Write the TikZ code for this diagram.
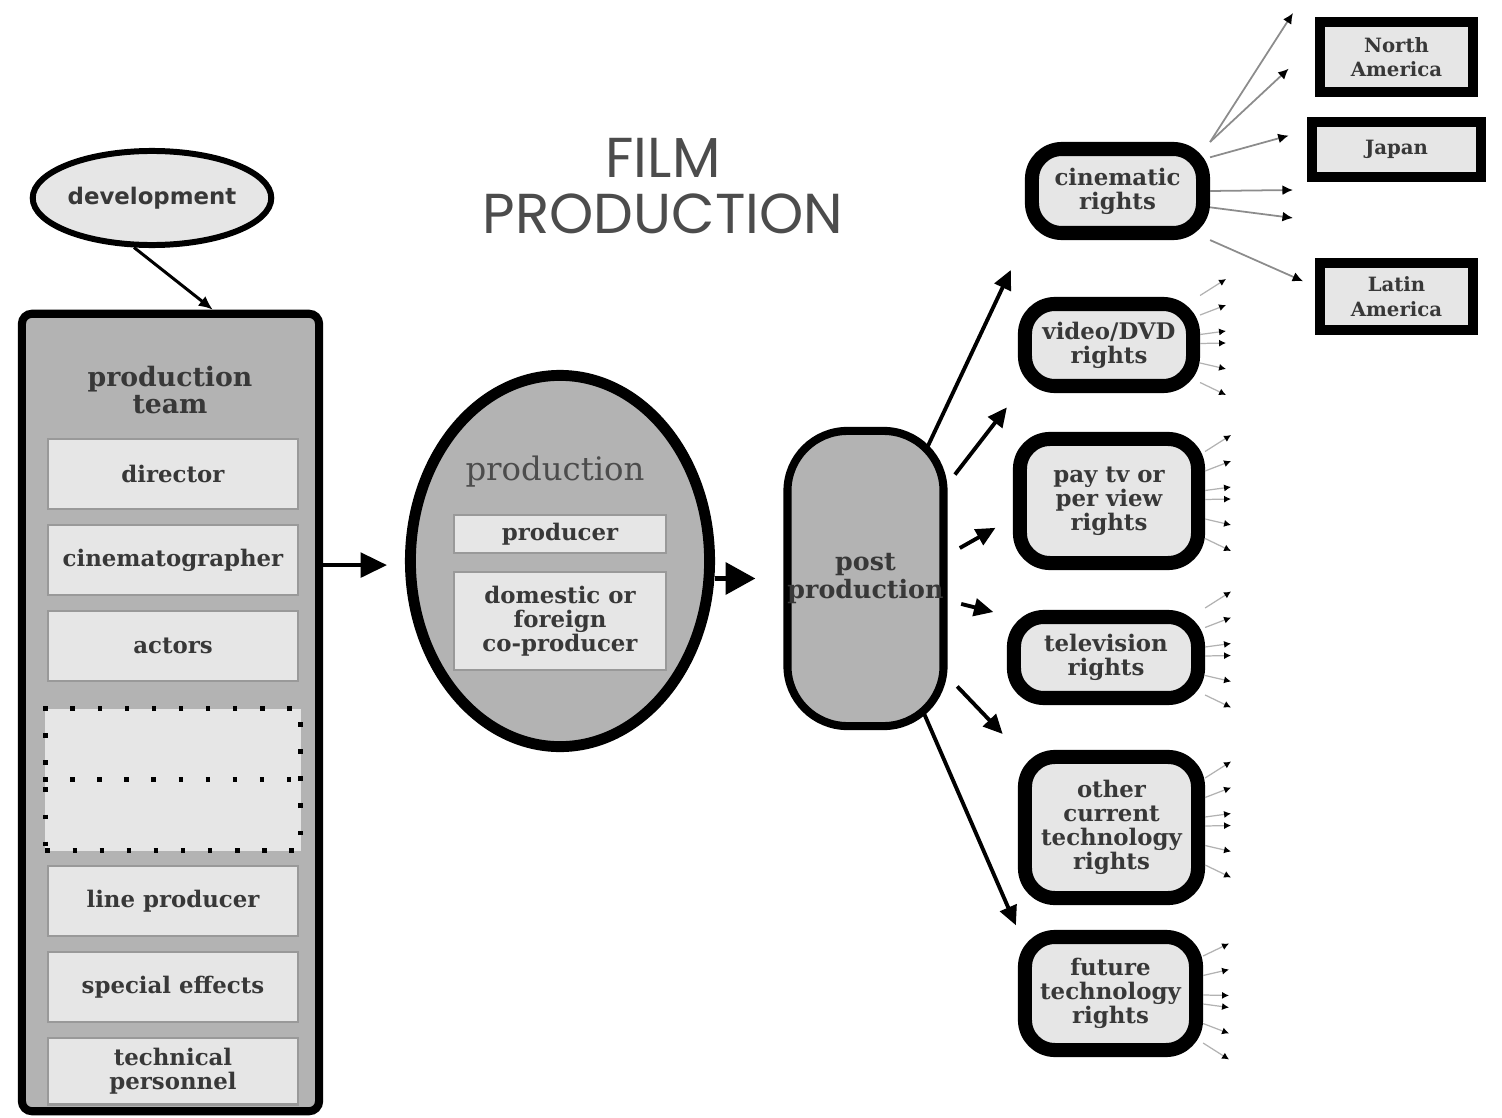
\documentclass[tikz,border=0pt]{standalone}
\usepackage{fontspec}
\setmainfont{DejaVu Serif}
\newfontfamily\devfont{DejaVu Sans}
\newfontfamily\titlefont{Poppins}
\usetikzlibrary{positioning,arrows.meta,calc,shapes.geometric}
\definecolor{lightbox}{HTML}{E6E6E6}
\definecolor{midbox}{HTML}{B3B3B3}
\definecolor{inkgray}{HTML}{383838}

\begin{document}
\begin{tikzpicture}[x=0.01cm, y=-0.01cm,
 every node/.style={align=center, inner sep=0pt},
 boxtext/.style={font=\bfseries\fontsize{6.5}{6.8}\selectfont, text=inkgray},
 member/.style={boxtext, draw=black!40, line width=0.6pt, fill=lightbox, minimum width=2.5cm, minimum height=0.7cm},
 rights/.style={boxtext, draw, line width=4pt, fill=lightbox, rounded corners=0.3cm},
 region/.style={draw, line width=2.8pt, fill=lightbox, font=\bfseries\fontsize{5.6}{7}\selectfont, text=inkgray},
 dotrule/.style={draw=black, line width=1.3pt, dash pattern=on 1.3pt off 6.4pt},
 bigarrow/.style={-{Triangle[length=7.5pt,width=7pt]}, line width=1.1pt},
 postarrow/.style={-{Triangle[length=5.5pt,width=5pt]}, line width=1.1pt},
 fanarrow/.style={-{Latex[length=3pt,width=2.8pt,black]}, draw=black!45, line width=0.5pt},
 finarrow/.style={-{Latex[length=2pt,width=2pt,black]}, draw=black!30, line width=0.35pt}]
 \useasboundingbox (0,0) rectangle (1502,1118);

 \node[font=\titlefont\fontsize{16}{16}\selectfont, text=black!70] (title) at (663,186) {FILM\\PRODUCTION};

 \node[ellipse, draw, line width=1.7pt, fill=lightbox, minimum width=2.22cm, minimum height=0.94cm,
  font=\devfont\bfseries\fontsize{6.5}{7}\selectfont, text=inkgray] (dev) at (152,198) {development};

 \node[draw, line width=2.3pt, fill=midbox, rounded corners=0.1cm, minimum width=2.97cm, minimum height=7.97cm] (team) at (170.5,712.5) {};
 \node[boxtext, font=\bfseries\fontsize{7.6}{7.7}\selectfont] (teamlbl) at (170,390) {production\\team};
 \node[member] (director) at (173,474) {director};
 \node[member, below=0.14cm of director] (cinema) {cinematographer};
 \node[member, below=0.14cm of cinema] (actors) {actors};
 \node[member, dotrule, minimum width=2.55cm, minimum height=1.42cm, below=0.24cm of actors] (blank) {};
 \node[member, below=0.12cm of blank] (linep) {line producer};
 \node[member, below=0.14cm of linep] (effects) {special effects};
 \node[member, minimum height=0.66cm, below=0.14cm of effects] (techn) {technical\\personnel};
 \draw[dotrule] (blank.west) -- (blank.east);

 \node[ellipse, draw, line width=3.1pt, fill=midbox, minimum width=2.99cm, minimum height=3.71cm] (prod) at (560,561) {};
 \node[font=\fontsize{9.2}{10}\selectfont, text=black!70] (prodlbl) at (555,472) {production};
 \node[member, minimum width=2.11cm, minimum height=0.38cm] (producer) at (560,534) {producer};
 \node[member, minimum width=2.11cm, minimum height=0.98cm] (coprod) at (560,621) {domestic or\\foreign\\co-producer};

 \node[boxtext, font=\bfseries\fontsize{7.2}{6.6}\selectfont, draw, line width=2.3pt, fill=midbox, rounded corners=0.6cm,
  minimum width=1.51cm, minimum height=2.95cm] (post) at (865.5,578.5) {post\\production};

 \node[rights, minimum width=1.71cm, minimum height=0.84cm] (cine) at (1117.5,191) {cinematic\\rights};
 \node[rights, minimum width=1.68cm, minimum height=0.82cm] (video) at (1109,345) {video/DVD\\rights};
 \node[rights, minimum width=1.78cm, minimum height=1.24cm] (paytv) at (1109,501) {pay tv or\\per view\\rights};
 \node[rights, minimum width=1.84cm, minimum height=0.81cm] (tv) at (1106,657.5) {television\\rights};
 \node[rights, minimum width=1.73cm, minimum height=1.41cm] (other) at (1111.5,827.5) {other\\current\\technology\\rights};
 \node[rights, minimum width=1.71cm, minimum height=1.13cm] (future) at (1110.5,993.5) {future\\technology\\rights};

 \node[region, minimum width=1.53cm, minimum height=0.70cm] (na) at (1396.5,57) {North\\America};
 \node[region, minimum width=1.69cm, minimum height=0.55cm] (japan) at (1396.5,149.5) {Japan};
 \node[region, minimum width=1.53cm, minimum height=0.67cm] (latin) at (1396.5,296.5) {Latin\\America};

 \coordinate (c1) at (1293,13);
 \coordinate (c4) at (1293,190);
 \coordinate (c5) at (1293,218);

 \draw[-{Latex[length=4pt,width=3.5pt]}, line width=0.85pt] (dev.250) -- (team.84);
 \draw[bigarrow, shorten >=0.18cm] (team.44) -- (team.44 -| prod.west);
 \draw[bigarrow, -{Triangle[length=8.5pt,width=9pt]}, line width=1.4pt, shorten >=0.28cm] (prod.east |- post.west) -- (post.west);

 \draw[postarrow, shorten <=1.45cm, shorten >=0.33cm] (post.center) -- (cine.south west);
 \draw[postarrow, shorten <=0.12cm, shorten >=0.18cm] (post.49) -- (video.south west);
 \draw[postarrow, shorten <=0.14cm, shorten >=0.2cm] (post.16) -- (paytv.190);
 \draw[postarrow, shorten <=0.14cm, shorten >=0.14cm] (post.-15) -- (tv.157);
 \draw[postarrow, shorten <=0.14cm, shorten >=0.22cm] (post.-50) -- (other.north west);
 \draw[postarrow, shorten <=1.46cm, shorten >=0.05cm] (post.center) -- (future.north west);

 \draw[fanarrow] (cine.north east) -- (c1);
 \draw[fanarrow, shorten >=0.36cm] (cine.north east) -- (na.171);
 \draw[fanarrow, shorten >=0.19cm] (cine.20) -- (japan.168);
 \draw[fanarrow] (cine.east) -- (c4);
 \draw[fanarrow] (cine.-10) -- (c5);
 \draw[fanarrow, shorten >=0.13cm] (cine.south east) -- (latin.173);

 \foreach \b/\s in {video/0,paytv/0,tv/0,other/0,future/16}
  \foreach \o in {-66,-40,-14,-2,24,50}
   \draw[finarrow] ($(\b.east)+(0,{(\o+\s)*0.75})$) -- ($(\b.east)+(26,\o+\s)$);
\end{tikzpicture}
\end{document}
